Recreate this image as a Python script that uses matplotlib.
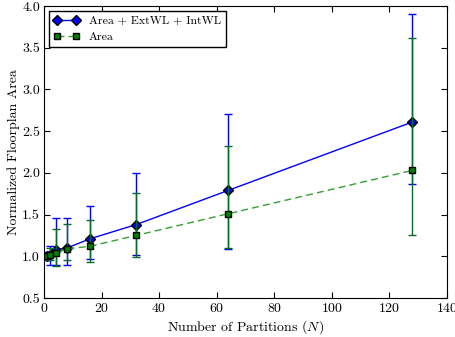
import matplotlib
matplotlib.use("Agg")
import matplotlib.pyplot as plt
from matplotlib.lines import Line2D

plt.rcParams['font.family'] = ['cmr10', 'DejaVu Serif']
plt.rcParams['mathtext.fontset'] = 'cm'
plt.rcParams['axes.formatter.use_mathtext'] = True
plt.rcParams['font.size'] = 10

N = [1, 2, 4, 8, 16, 32, 64, 128]
full_mean = [1.00, 1.01, 1.08, 1.10, 1.21, 1.38, 1.79, 2.61]
full_hi = [1.05, 1.12, 1.46, 1.46, 1.60, 2.00, 2.71, 3.91]
full_lo = [0.95, 0.90, 0.90, 0.90, 0.97, 1.02, 1.09, 1.87]
area_mean = [1.00, 1.01, 1.04, 1.09, 1.12, 1.25, 1.51, 2.03]
area_hi = [1.03, 1.10, 1.33, 1.39, 1.44, 1.76, 2.32, 3.62]
area_lo = [0.97, 0.95, 0.88, 0.96, 0.93, 0.99, 1.10, 1.26]
labels = ['Area + ExtWL + IntWL', 'Area']

fig = plt.figure(figsize=(4.56, 3.37), dpi=100)
ax = fig.add_axes([0.0965, 0.1157, 0.8835, 0.8663])

fe = [[m - l for m, l in zip(full_mean, full_lo)], [h - m for m, h in zip(full_mean, full_hi)]]
ae = [[m - l for m, l in zip(area_mean, area_lo)], [h - m for m, h in zip(area_mean, area_hi)]]

green_line = '#33a033'
ax.errorbar(N, full_mean, yerr=fe, fmt='-', color='b', marker='D', markersize=5,
            markerfacecolor='b', markeredgecolor='k', markeredgewidth=1.0,
            ecolor='b', capsize=3, elinewidth=1, lw=1, zorder=3)
ax.errorbar(N, area_mean, yerr=ae, fmt='--', color=green_line, marker='s', markersize=5,
            markerfacecolor='g', markeredgecolor='k', markeredgewidth=1.0,
            ecolor='#0a6a2a', capsize=3, elinewidth=1, lw=1, dashes=(5, 3), zorder=4)

ax.set_xlim(0, 140)
ax.set_ylim(0.5, 4.0)
ax.set_xticks([0, 20, 40, 60, 80, 100, 120, 140])
ax.set_yticks([0.5, 1.0, 1.5, 2.0, 2.5, 3.0, 3.5, 4.0])
ax.set_yticklabels(['0.5', '1.0', '1.5', '2.0', '2.5', '3.0', '3.5', '4.0'])
ax.tick_params(direction='in', top=True, right=True, length=4, pad=3)
ax.set_xlabel('Number of Partitions ($N$)', fontsize=10, labelpad=2)
ax.set_ylabel('Normalized Floorplan Area', fontsize=10, labelpad=1)

h1 = Line2D([], [], color='b', lw=1, marker='D', markersize=5,
            markerfacecolor='b', markeredgecolor='k')
h2 = Line2D([], [], color=green_line, lw=1, ls='--', dashes=(5, 3), marker='s', markersize=5,
            markerfacecolor='g', markeredgecolor='k')
leg = ax.legend([h1, h2], labels, loc='upper left', numpoints=2, fontsize=8.5, fancybox=False,
                framealpha=1, edgecolor='k', borderaxespad=0.4, handlelength=2.2)
leg.get_frame().set_linewidth(1)

fig.savefig('out.png', dpi=100)
